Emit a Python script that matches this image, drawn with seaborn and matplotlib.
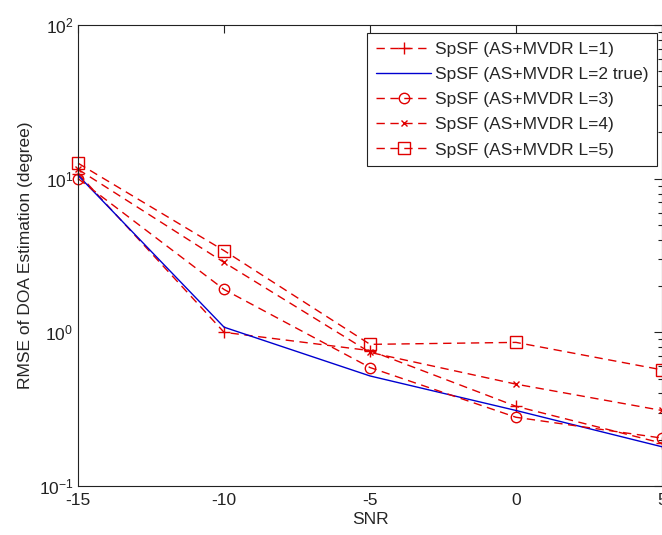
import numpy as np
import pandas as pd
import matplotlib
matplotlib.use("Agg")
import matplotlib.pyplot as plt
import seaborn as sns
from matplotlib.ticker import LogLocator, FixedLocator, NullFormatter

snr = [-15, -10, -5, 0, 5]
l1 = [10.8, 1.0, 0.76, 0.33, 0.19]
l2 = [10.5, 1.08, 0.52, 0.31, 0.18]
l3 = [10.0, 1.9, 0.59, 0.28, 0.205]
l4 = [11.5, 2.85, 0.74, 0.46, 0.31]
l5 = [12.6, 3.4, 0.835, 0.86, 0.57]
labels = ["SpSF (AS+MVDR L=1)", "SpSF (AS+MVDR L=2 true)", "SpSF (AS+MVDR L=3)",
          "SpSF (AS+MVDR L=4)", "SpSF (AS+MVDR L=5)"]
xticks = [-15, -10, -5, 0, 5]

sns.set_style("white")
plt.rcParams['font.family'] = ['Liberation Sans', 'DejaVu Sans']
plt.rcParams['mathtext.fontset'] = 'custom'
plt.rcParams['mathtext.rm'] = 'Liberation Sans'
plt.rcParams['mathtext.it'] = 'Liberation Sans'

fig = plt.figure(figsize=(6.62, 5.35), dpi=100)
ax = fig.add_axes([0.118, 0.0916, 0.882, 0.8617])

red = '#e00000'
blue = '#0000d0'
series = [l1, l2, l3, l4, l5]
styles = [
    dict(color=red, marker='+', ls=(0, (6, 4)), ms=9, mfc='none'),
    dict(color=blue, marker=None, ls='-', ms=0, mfc='none'),
    dict(color=red, marker='o', ls=(0, (6, 4)), ms=7.5, mfc='none'),
    dict(color=red, marker='x', ls=(0, (6, 4)), ms=5, mfc='none'),
    dict(color=red, marker='s', ls=(0, (6, 4)), ms=8, mfc='none'),
]
for vals, lab, st in zip(series, labels, styles):
    df = pd.DataFrame({'SNR': snr, 'RMSE': vals})
    sns.lineplot(data=df, x='SNR', y='RMSE', ax=ax, color=st['color'],
                 marker=st['marker'], linestyle=st['ls'], markersize=st['ms'],
                 markerfacecolor=st['mfc'], markeredgecolor=st['color'],
                 markeredgewidth=1.0, linewidth=1.0, label=lab, clip_on=False)

ax.set_yscale('log')
ax.set_xlim(-15, 5)
ax.set_ylim(0.1, 100)
ax.xaxis.set_major_locator(FixedLocator(xticks))
ax.set_xticklabels([str(t) for t in xticks])
ax.yaxis.set_major_locator(FixedLocator([0.1, 1, 10, 100]))
ax.set_yticklabels([r'$\mathregular{10^{-1}}$', r'$\mathregular{10^{0}}$',
                    r'$\mathregular{10^{1}}$', r'$\mathregular{10^{2}}$'])
ax.yaxis.set_minor_locator(LogLocator(base=10, subs=np.arange(2, 10)))
ax.yaxis.set_minor_formatter(NullFormatter())
ax.tick_params(axis='both', which='both', direction='in', top=True, right=True,
               labelsize=12.5, colors='#222222')
ax.tick_params(which='major', length=6, width=0.8)
ax.tick_params(which='minor', length=3, width=0.8)
ax.tick_params(axis='x', which='minor', top=False, bottom=False)
ax.tick_params(axis='x', pad=5)
for s in ax.spines.values():
    s.set_color('#222222')
    s.set_linewidth(0.8)

ax.set_xlabel('SNR', fontsize=12.5, labelpad=3)
ax.set_ylabel('RMSE of DOA Estimation (degree)', fontsize=12.5, labelpad=4)

leg = ax.legend(loc='upper right', bbox_to_anchor=(0.9915, 0.983), fontsize=12.5,
                frameon=True, fancybox=False, edgecolor='#222222', framealpha=1,
                handlelength=3.2, handletextpad=0.2, borderpad=0.5,
                labelspacing=0.58, borderaxespad=0)
leg.get_frame().set_linewidth(0.8)

fig.savefig('out.png', dpi=100)
